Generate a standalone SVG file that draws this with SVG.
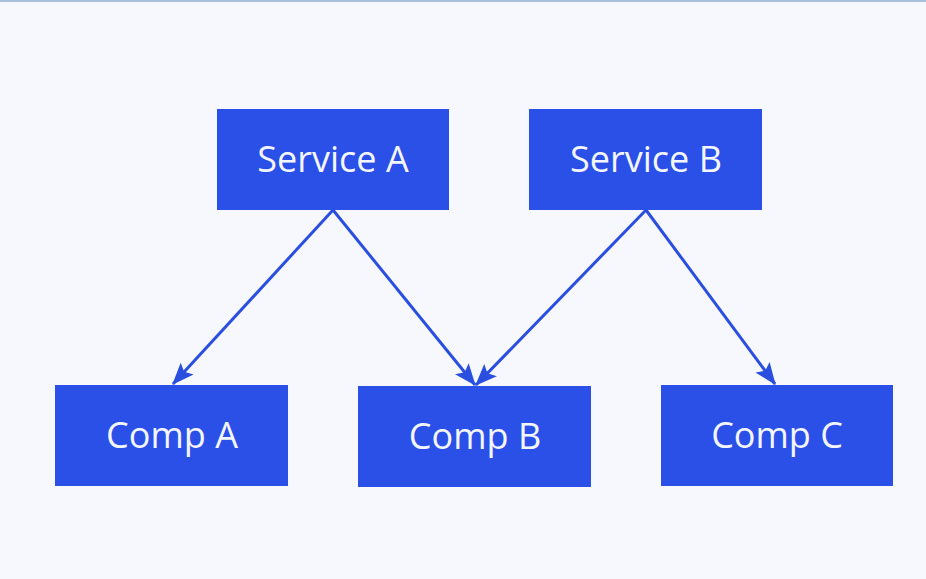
<svg xmlns="http://www.w3.org/2000/svg" width="926" height="579" viewBox="0 0 926 579">
<style>
.box{fill:#2a50e8;}
.lbl{font-family:"Open Sans","DejaVu Sans",sans-serif;font-size:36px;fill:#f4f6ff;text-anchor:middle;dominant-baseline:central;}
.edge{stroke:#2a4fe0;stroke-width:3;fill:none;}
</style>
<defs>
<marker id="arr" viewBox="0 0 20 20" refX="19" refY="10" markerWidth="22" markerHeight="22" markerUnits="userSpaceOnUse" orient="auto">
<path d="M0,2 L20,10 L0,18 L4,10 Z" fill="#2a4fe0"/>
</marker>
</defs>
<rect width="926" height="579" fill="#f7f8fd"/>
<rect width="926" height="2" fill="#a9c1dc"/>
<g id="connectors">
<line class="edge" x1="333" y1="210" x2="173" y2="384" marker-end="url(#arr)"/>
<line class="edge" x1="333" y1="210" x2="475" y2="385" marker-end="url(#arr)"/>
<line class="edge" x1="646" y1="210" x2="476" y2="385" marker-end="url(#arr)"/>
<line class="edge" x1="646" y1="210" x2="775" y2="384" marker-end="url(#arr)"/>
</g>
<g id="service-a"><rect class="box" x="217" y="109" width="232" height="101"/><text class="lbl" x="333" y="158">Service A</text></g>
<g id="service-b"><rect class="box" x="529" y="109" width="233" height="101"/><text class="lbl" x="646" y="158">Service B</text></g>
<g id="comp-a"><rect class="box" x="55" y="385" width="233" height="101"/><text class="lbl" x="172" y="434">Comp A</text></g>
<g id="comp-b"><rect class="box" x="358" y="386" width="233" height="101"/><text class="lbl" x="475" y="435">Comp B</text></g>
<g id="comp-c"><rect class="box" x="661" y="385" width="232" height="101"/><text class="lbl" x="777" y="434">Comp C</text></g>
</svg>
